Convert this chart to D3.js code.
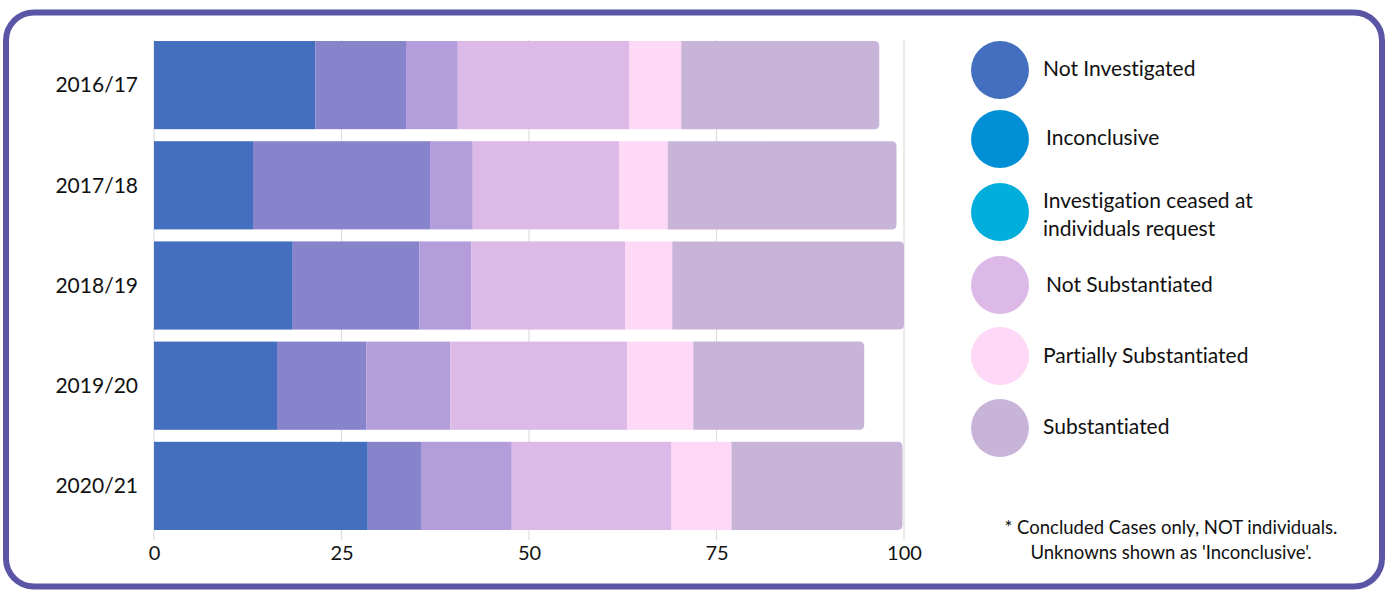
<!DOCTYPE html>
<html><head><meta charset="utf-8">
<script src="https://cdn.jsdelivr.net/npm/d3@7"></script>
<style>body{margin:0;background:#fff;font-family:Lato,sans-serif;} text{font-variant-ligatures:none;font-feature-settings:"liga" 0;}</style>
</head><body>
<svg id="c" width="1393" height="590"></svg>
<script>
const years = ["2016/17","2017/18","2018/19","2019/20","2020/21"];
const seriesNames = ["Not Investigated","Inconclusive","Investigation ceased at individuals request","Not Substantiated","Partially Substantiated","Substantiated"];
const notInvestigated = [21.5, 13.2, 18.5, 16.4, 28.5];
const inconclusive    = [12.1, 23.6, 16.9, 11.9, 7.2];
const ceased          = [6.9, 5.7, 6.9, 11.2, 12.0];
const notSubst        = [22.9, 19.5, 20.5, 23.6, 21.3];
const partialSubst    = [6.9, 6.5, 6.3, 8.8, 8.0];
const substantiated   = [26.4, 30.5, 30.9, 22.8, 22.8];
const xTicks = [0, 25, 50, 75, 100];
const barColors = ["#436fbe","#8884cc","#b39ddb","#ddb9e8","#fdd8f7","#c8b4d8"];
const legendColors = ["#436fbe","#008fd5","#00aedc","#ddb9e8","#fdd8f7","#c8b4d8"];
const legendLabels = [["Not Investigated"],["Inconclusive"],["Investigation ceased at","individuals request"],["Not Substantiated"],["Partially Substantiated"],["Substantiated"]];
const footnote = ["* Concluded Cases only, NOT individuals.","Unknowns shown as 'Inconclusive'."];

const svg = d3.select("#c");
svg.append("rect").attr("x",6).attr("y",12.5).attr("width",1376).attr("height",574)
  .attr("rx",28).attr("fill","#fff").attr("stroke","#5b55a6").attr("stroke-width",6);

const x = d3.scaleLinear().domain([0,100]).range([154,904]);
const y = d3.scaleBand().domain(years).range([35,536]).paddingInner(0.12).paddingOuter(0.06);

const series = [notInvestigated, inconclusive, ceased, notSubst, partialSubst, substantiated];
const rows = years.map((yr,i)=>{const o={year:yr}; seriesNames.forEach((s,j)=>o[s]=series[j][i]); return o;});
const stack = d3.stack().keys(seriesNames)(rows);

// grid
svg.append("g").selectAll("line").data(xTicks).join("line")
  .attr("x1",d=>x(d)).attr("x2",d=>x(d)).attr("y1",y.range()[0]+5).attr("y2",y.range()[1]+4)
  .attr("stroke","#dedede").attr("stroke-width",1.2);

// bars
const r = 5;
stack.forEach((layer,j)=>{
  const g = svg.append("g").attr("fill",barColors[j]);
  layer.forEach((d,i)=>{
    const x0=x(d[0]), x1=x(d[1]), y0=y(years[i]), h=y.bandwidth();
    if(j===stack.length-1){
      const p=d3.path();
      p.moveTo(x0,y0); p.lineTo(x1-r,y0); p.quadraticCurveTo(x1,y0,x1,y0+r);
      p.lineTo(x1,y0+h-r); p.quadraticCurveTo(x1,y0+h,x1-r,y0+h); p.lineTo(x0,y0+h); p.closePath();
      g.append("path").attr("d",p.toString());
    } else {
      g.append("rect").attr("x",x0).attr("y",y0).attr("width",x1-x0).attr("height",h);
    }
  });
});

// y labels
svg.append("g").selectAll("text").data(years).join("text")
  .attr("x",138).attr("y",d=>y(d)+y.bandwidth()/2).attr("dy","0.35em")
  .attr("text-anchor","end").attr("font-size",21).attr("fill","#111").text(d=>d);

// x axis
const xa = svg.append("g").attr("transform","translate(0,536)")
  .call(d3.axisBottom(x).tickValues(xTicks).tickSize(0).tickPadding(10));
xa.select(".domain").remove();
xa.selectAll("text").attr("font-size",20).attr("font-family","Lato").attr("fill","#111");

// legend
const ly = [69,138,201,285,356,427];
const lx = [1043,1046,1043,1046,1043,1043];
const cy = [70,139,212,285,356,428];
legendLabels.forEach((lines,i)=>{
  svg.append("circle").attr("cx",1000).attr("cy",cy[i]).attr("r",29).attr("fill",legendColors[i]);
  const t = svg.append("text").attr("x",lx[i]).attr("font-size",21).attr("fill","#111");
  lines.forEach((ln,k)=>t.append("tspan").attr("x",lx[i]).attr("y",ly[i]+k*28).attr("dy","0.35em").text(ln));
});

// footnote
footnote.forEach((ln,k)=>svg.append("text").attr("x",1171).attr("y",528+k*25).attr("dy","0.35em")
  .attr("text-anchor","middle").attr("font-size",18.5).attr("fill","#111").text(ln));
</script>
</body></html>
